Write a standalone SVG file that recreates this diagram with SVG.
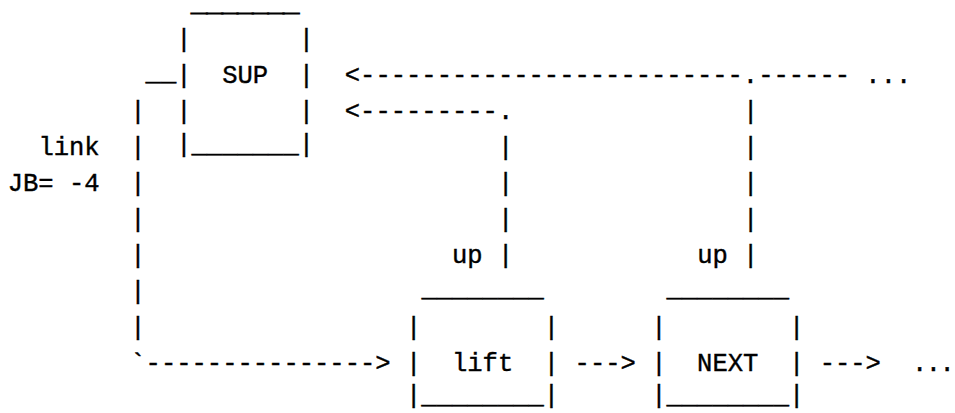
<svg xmlns="http://www.w3.org/2000/svg" width="955" height="413" viewBox="0 0 955 413">
<style>
text{font-family:"Liberation Mono","Courier New",monospace;font-size:25.53px;fill:#000;stroke:#000;stroke-width:0.4;white-space:pre}
text.thin{font-size:12.765px;stroke-width:1.2}
</style>
<rect width="955" height="413" fill="#fff"/>
<g id="node-sup">
<text class="thin" transform="translate(191.58,12) scale(2,1)">_______</text>
<text x="176.26" y="47.3" xml:space="preserve">|       |</text>
<text x="176.26" y="83.3" xml:space="preserve">|  SUP  |</text>
<text x="176.26" y="119.3" xml:space="preserve">|       |</text>
<text x="176.26" y="152.3">|_______|</text>
</g>
<g id="node-lift">
<text x="421.38" y="296.3">________</text>
<text x="406.06" y="335.3" xml:space="preserve">|        |</text>
<text x="406.06" y="371.3" xml:space="preserve">|  lift  |</text>
<text x="406.06" y="403.3">|________|</text>
</g>
<g id="node-next">
<text x="666.5" y="296.3">________</text>
<text x="651.18" y="335.3" xml:space="preserve">|        |</text>
<text x="651.18" y="371.3" xml:space="preserve">|  NEXT  |</text>
<text x="651.18" y="403.3">|________|</text>
</g>
<g id="labels">
<text x="38.38" y="155.3">link</text>
<text x="7.74" y="191.3" xml:space="preserve">JB= -4</text>
<text x="452.02" y="263.3">up</text>
<text x="697.14" y="263.3">up</text>
</g>
<g id="connectors">
<text x="145.62" y="80.3">__</text>
<text x="130.3" y="119.3">|</text>
<text x="130.3" y="155.3">|</text>
<text x="130.3" y="191.3">|</text>
<text x="130.3" y="227.3">|</text>
<text x="130.3" y="263.3">|</text>
<text x="130.3" y="299.3">|</text>
<text x="130.3" y="335.3">|</text>
<text x="130.3" y="371.3">`---------------&gt;</text>
<text x="344.78" y="83.3" xml:space="preserve">&lt;-------------------------.------ ...</text>
<text x="344.78" y="119.3">&lt;---------.</text>
<text x="497.98" y="155.3">|</text>
<text x="497.98" y="191.3">|</text>
<text x="497.98" y="227.3">|</text>
<text x="497.98" y="263.3">|</text>
<text x="743.1" y="119.3">|</text>
<text x="743.1" y="155.3">|</text>
<text x="743.1" y="191.3">|</text>
<text x="743.1" y="227.3">|</text>
<text x="743.1" y="263.3">|</text>
<text x="574.58" y="371.3">---&gt;</text>
<text x="819.7" y="371.3">---&gt;</text>
<text x="912" y="371.3" letter-spacing="-1.5">...</text>
</g>
</svg>
